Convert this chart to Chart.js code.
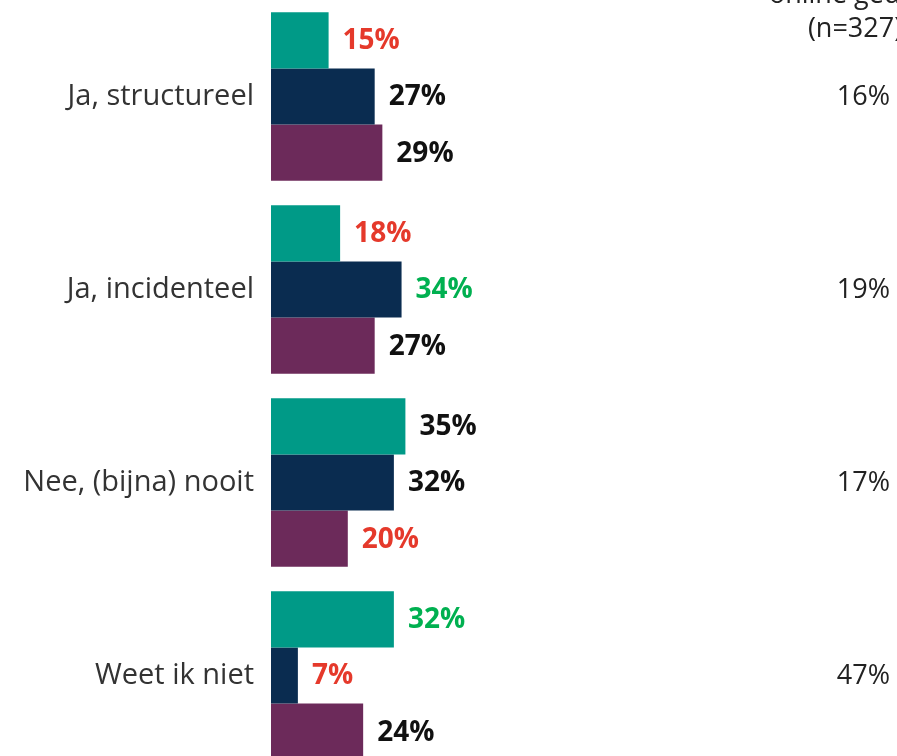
<!DOCTYPE html>
<html>
<head>
<meta charset="utf-8">
<script src="https://cdn.jsdelivr.net/npm/chart.js@4.4.1/dist/chart.umd.min.js"></script>
<style>
  html, body { margin: 0; padding: 0; background: #fff; overflow: hidden; }
  body { width: 897px; height: 756px; position: relative; }
  #answers { position: absolute; left: 0; top: -40px; }
</style>
</head>
<body>
<canvas id="answers" width="897" height="812"></canvas>
<script>
// ------------- answers per category --------------------------- //

var categories = ["Ja, structureel", "Ja, incidenteel", "Nee, (bijna) nooit", "Weet ik niet"]

var tealValues = [15, 18, 35, 32]
var navyValues = [27, 34, 32, 7]
var purpleValues = [29, 27, 20, 24]

// colour of the value label next to each bar
var RED = "#e5392b", BLACK = "#111111", GREEN = "#00b050"
var tealLabelColors = [RED, RED, BLACK, GREEN]
var navyLabelColors = [BLACK, GREEN, BLACK, RED]
var purpleLabelColors = [BLACK, BLACK, RED, BLACK]

// right hand column
var sideHeader = ["online gedrag", "(n=327)"]
var sideValues = [16, 19, 17, 47]

var labelColors = [tealLabelColors, navyLabelColors, purpleLabelColors]

var valueLabels = {
    id: "valueLabels",
    afterDatasetsDraw: function (chart) {
        var ctx = chart.ctx
        ctx.save()
        ctx.font = "bold 28px 'Open Sans'"
        ctx.textAlign = "left"
        ctx.textBaseline = "middle"
        chart.data.datasets.forEach(function (ds, i) {
            chart.getDatasetMeta(i).data.forEach(function (bar, j) {
                ctx.fillStyle = labelColors[i][j]
                ctx.fillText(ds.data[j] + "%", bar.x + 14, bar.y + 1)
            })
        })
        ctx.restore()
    }
}

var sideColumn = {
    id: "sideColumn",
    afterDraw: function (chart) {
        var ctx = chart.ctx
        var yScale = chart.scales.y
        ctx.save()
        ctx.fillStyle = "#222222"
        ctx.font = "27px 'Open Sans'"
        ctx.textAlign = "center"
        ctx.textBaseline = "middle"
        ctx.fillText(sideHeader[0], 855, 35)
        ctx.fillText(sideHeader[1], 855, 69)
        ctx.textAlign = "right"
        sideValues.forEach(function (v, i) {
            ctx.fillText(v + "%", 890, yScale.getPixelForValue(i) + 1)
        })
        ctx.restore()
    }
}

var answersChart = new Chart("answers", {
    type: "bar",
    data: {
        labels: categories,
        datasets: [{
            label: "teal",
            backgroundColor: "#009a87",
            data: tealValues
        }, {
            label: "navy",
            backgroundColor: "#0a2c50",
            data: navyValues
        }, {
            label: "purple",
            backgroundColor: "#6c2a5a",
            data: purpleValues
        }]
    },
    options: {
        indexAxis: "y",
        responsive: false,
        animation: false,
        layout: { padding: { top: 40, right: 242, bottom: 0, left: 0 } },
        datasets: { bar: { categoryPercentage: 0.872, barPercentage: 1 } },
        plugins: {
            legend: { display: false },
            tooltip: { enabled: false }
        },
        scales: {
            x: { display: false, min: 0, max: 100 },
            y: {
                grid: { display: false, drawTicks: false },
                border: { display: false },
                ticks: {
                    padding: 17,
                    color: "#333333",
                    font: { family: "'Open Sans'", size: 29 }
                },
                afterFit: function (scale) {
                    // labels sit mid-band, so no extra room above/below the bars
                    scale.width = 271
                    scale.paddingTop = 0
                    scale.paddingBottom = 0
                }
            }
        }
    },
    plugins: [valueLabels, sideColumn]
});
</script>
</body>
</html>
